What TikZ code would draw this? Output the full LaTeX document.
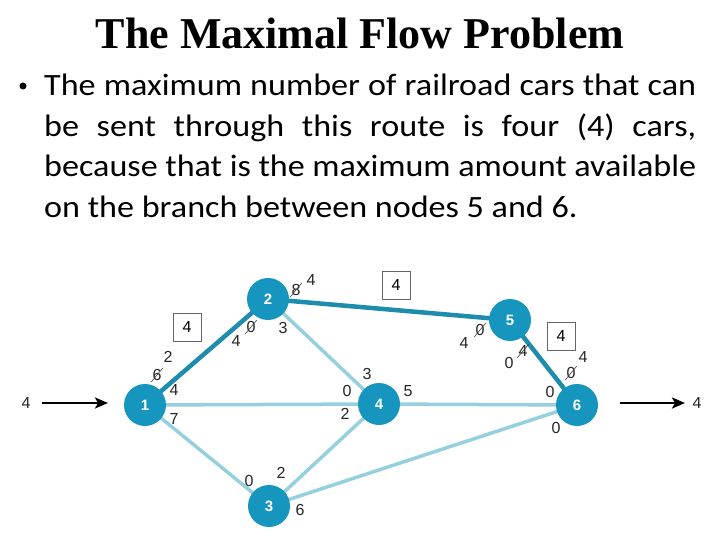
\documentclass[tikz,border=0pt]{standalone}
\usepackage{fontspec}
\setmainfont{Liberation Serif}
\newfontfamily\bodyfont[FakeStretch=1.1]{Carlito}
\newfontfamily\numfont{Liberation Sans}
\usetikzlibrary{arrows.meta}
\definecolor{nodefill}{RGB}{22,150,190}
\definecolor{darkedge}{RGB}{30,140,172}
\definecolor{lightedge}{RGB}{150,208,222}
\tikzset{
  netnode/.style={circle,fill=nodefill,minimum size=42pt,inner sep=0pt,text=white,font=\numfont\fontsize{15}{15}\selectfont\bfseries},
  darkline/.style={draw=darkedge,line width=4.5pt},
  lightline/.style={draw=lightedge,line width=3.5pt},
  num/.style={font=\numfont\fontsize{16}{16}\selectfont,inner sep=0pt,text=black!85},
  strike/.style={append after command={([shift={(-1pt,-1pt)}]\tikzlastnode.south west) edge[draw=black!75,line width=0.6pt] ([shift={(1pt,1pt)}]\tikzlastnode.north east)}},
  flowbox/.style={draw=black!60,line width=0.8pt,minimum width=28pt,minimum height=28pt,inner sep=0pt,font=\numfont\fontsize{16}{16}\selectfont},
  ioarrow/.style={draw=black,line width=2.4pt,-{Stealth[length=13pt,width=11pt,inset=3pt]}}
}
\begin{document}
\begin{tikzpicture}[x=1pt,y=-1pt]
\useasboundingbox[fill=white] (0,0) rectangle (720,540);
% title and text
\node[font=\fontsize{44}{44}\selectfont\bfseries,anchor=base] (title) at (360,49) {The Maximal Flow Problem};
\node[circle,fill=black,minimum size=7pt,inner sep=0pt] (bullet) at (23,86) {};
\node[anchor=north west,inner sep=0pt,text width=652pt,align=justify,
      font=\bodyfont\fontsize{31}{40.6}\selectfont] (body) at (44,74)
 {The maximum number of railroad cars that can\linebreak
  be sent through this route is four (4) cars,\linebreak
  because that is the maximum amount available\linebreak
  on the branch between nodes 5 and 6.};
% network node positions
\coordinate (p1) at (145,405);
\coordinate (p2) at (268,299);
\coordinate (p3) at (269,506);
\coordinate (p4) at (379,404);
\coordinate (p5) at (510,320);
\coordinate (p6) at (577,405);
% edges
\path[lightline] (p1) -- (p4);
\path[lightline] (p2) -- (p4);
\path[lightline] (p1) -- (p3);
\path[lightline] (p3) -- (p4);
\path[lightline] (p3) -- (p6);
\path[lightline] (p4) -- (p6);
\path[darkline] (p1) -- (p2);
\path[darkline] (p2) -- (p5);
\path[darkline] (p5) -- (p6);
% nodes on top
\node[netnode] (n1) at (p1) {1};
\node[netnode] (n2) at (p2) {2};
\node[netnode] (n3) at (p3) {3};
\node[netnode] (n4) at (p4) {4};
\node[netnode] (n5) at (p5) {5};
\node[netnode] (n6) at (p6) {6};
% source / sink arrows
\node[num] (inlab) at (26,403) {4};
\node[num] (outlab) at (697,403) {4};
\coordinate (inA) at (42,403);
\coordinate (inB) at (108,403);
\coordinate (outA) at (620,403);
\coordinate (outB) at (685,403);
\draw[ioarrow] (inA) -- (inB);
\draw[ioarrow] (outA) -- (outB);
% boxes
\node[flowbox] (b1) at (187,327) {4};
\node[flowbox] (b2) at (396,285) {4};
\node[flowbox] (b3) at (561,336) {4};
% labels near node 1
\node[num] (l1a) at (168,357) {2};
\node[num,strike] (l1b) at (157,375) {6};
\node[num] (l1c) at (174,390) {4};
\node[num] (l1d) at (174,419) {7};
% near node 2
\node[num,strike] (l2a) at (296,290) {8};
\node[num] (l2b) at (311,280) {4};
\node[num] (l2c) at (236,341) {4};
\node[num,strike] (l2d) at (251,327) {0};
\node[num] (l2e) at (283,328) {3};
% near node 5
\node[num] (l5a) at (464,343) {4};
\node[num,strike] (l5b) at (480,330) {0};
\node[num] (l5c) at (509,363) {0};
\node[num,strike] (l5d) at (523,351) {4};
% near node 6
\node[num,strike] (l6a) at (571,373) {0};
\node[num] (l6b) at (583,357) {4};
\node[num] (l6c) at (550,392) {0};
\node[num] (l6d) at (556,428) {0};
% near node 4
\node[num] (l4a) at (367,374) {3};
\node[num] (l4b) at (347,391) {0};
\node[num] (l4c) at (408,391) {5};
\node[num] (l4d) at (345,414) {2};
% near node 3
\node[num] (l3a) at (249,481) {0};
\node[num] (l3b) at (281,473) {2};
\node[num] (l3c) at (300,510) {6};
\end{tikzpicture}
\end{document}
